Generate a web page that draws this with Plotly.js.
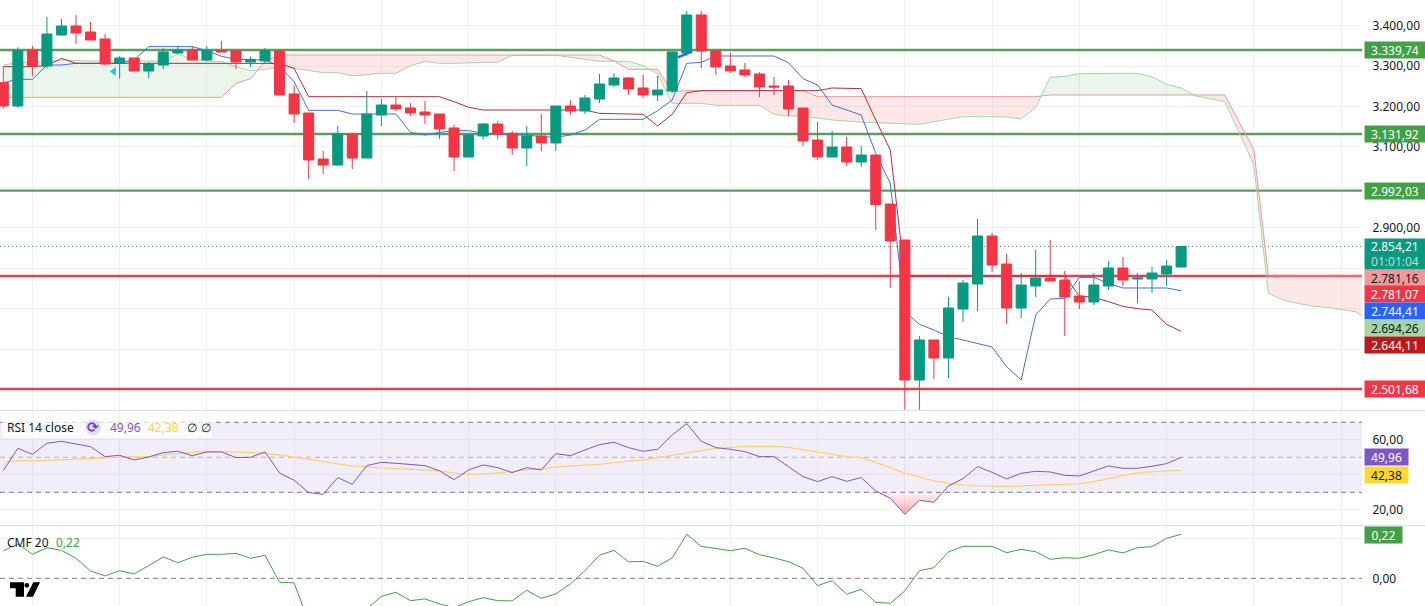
<!DOCTYPE html>
<html>
<head>
<meta charset="utf-8">
<script src="https://cdn.plot.ly/plotly-3.0.1.min.js"></script>
<style>html,body{margin:0;padding:0;background:#fff;overflow:hidden}#chart{width:1425px;height:606px}</style>
</head>
<body>
<div id="chart"></div>
<script>
const open = [
3259.0,3201.3,3338.1,3300.2,3376.8,3399.0,3384.2,3366.9,3307.6,3319.9,
3287.8,3302.6,3332.3,3339.7,3315.0,3338.1,3337.2,3310.0,3312.5,3337.2,
3231.0,3184.0,3070.2,3055.4,3132.0,3072.7,3179.0,3203.7,3196.3,3186.4,
3181.5,3146.9,3075.2,3127.1,3156.8,3133.7,3097.4,3127.1,3109.8,3201.3,
3188.9,3218.6,3253.2,3270.5,3245.8,3228.5,3238.3,3332.3,3426.2,3337.2,
3300.2,3290.3,3280.4,3250.7,3250.7,3196.3,3117.2,3075.2,3099.9,3062.8,
3080.1,2959.0,2870.0,2523.9,2622.8,2578.3,2699.4,2761.2,2879.9,2810.7,
2701.9,2756.3,2776.1,2771.1,2731.6,2716.8,2756.3,2800.8,2773.6,2773.6,
2786.0,2803.3];
const high = [
3298.5,3346.3,3349.6,3421.3,3416.3,3426.2,3408.9,3379.2,3324.9,3319.9,
3310.0,3344.6,3349.6,3349.6,3349.6,3361.9,3342.2,3323.2,3344.6,3342.2,
3253.2,3184.0,3090.0,3151.8,3132.0,3238.3,3218.6,3223.5,3208.7,3213.6,
3181.5,3154.3,3132.0,3159.2,3164.2,3139.5,3151.8,3181.5,3201.3,3216.1,
3228.5,3280.4,3282.8,3273.0,3277.9,3275.4,3337.2,3436.1,3436.1,3339.7,
3332.3,3307.6,3285.3,3273.0,3265.5,3196.3,3161.7,3139.5,3124.6,3102.4,
3080.1,2959.0,2870.0,2632.7,2622.8,2729.0,2771.1,2922.0,2887.3,2835.4,
2788.4,2845.3,2870.0,2793.4,2768.7,2788.4,2818.0,2828.0,2788.4,2803.3,
2820.6,2854.21];
const low = [
3194.7,3197.1,3275.4,3294.4,3374.3,3354.5,3364.4,3302.6,3268.8,3283.7,
3270.5,3292.7,3329.8,3315.0,3312.5,3334.8,3292.7,3297.7,3306.7,3228.5,
3159.2,3020.8,3033.2,3052.9,3045.5,3072.7,3151.8,3188.9,3176.5,3156.8,
3119.7,3040.6,3075.2,3117.2,3119.7,3080.1,3052.9,3090.0,3090.0,3179.0,
3181.5,3208.7,3248.2,3228.5,3221.0,3213.6,3233.4,3324.9,3295.2,3277.9,
3282.8,3273.0,3223.5,3228.5,3176.5,3102.4,3067.8,3075.2,3052.9,3050.5,
2894.7,2751.4,2400.0,2400.0,2526.4,2528.9,2667.3,2694.5,2790.9,2662.4,
2677.2,2729.0,2768.7,2632.7,2699.4,2709.3,2746.4,2756.3,2714.3,2739.0,
2756.3,2803.3];
const close = [
3201.3,3338.1,3300.2,3379.2,3399.0,3381.7,3364.4,3305.1,3319.9,3287.8,
3305.1,3334.8,3339.7,3315.0,3338.1,3334.8,3310.0,3316.6,3337.2,3228.5,
3181.5,3067.8,3055.4,3132.0,3072.7,3181.5,3203.7,3193.9,3184.0,3179.0,
3144.4,3075.2,3129.6,3156.8,3132.0,3097.4,3127.1,3109.8,3201.3,3188.9,
3221.0,3255.7,3270.5,3243.3,3228.5,3240.8,3334.8,3426.2,3337.2,3297.7,
3287.8,3277.9,3248.2,3248.2,3193.9,3114.7,3075.2,3099.9,3062.8,3080.1,
2957.4,2867.5,2523.9,2622.8,2578.3,2701.9,2763.7,2879.9,2808.2,2701.9,
2758.8,2776.1,2768.7,2729.0,2716.8,2758.8,2800.8,2771.1,2776.1,2788.4,
2805.7,2854.21];

const conversionLine = [
3259.0,3267.2,3267.2,3302.6,3302.6,3306.7,3306.7,3306.7,3306.7,3315.0,
3348.0,3348.0,3348.0,3348.0,3338.1,3324.0,3316.6,3315.0,3315.0,3298.5,
3261.4,3190.6,3190.6,3190.6,3181.5,3181.5,3181.5,3181.5,3136.2,3129.6,
3136.2,3140.3,3140.3,3133.7,3132.0,3129.6,3129.6,3125.5,3123.8,3129.6,
3141.9,3168.3,3168.3,3168.3,3168.3,3189.7,3216.1,3306.7,3309.2,3324.9,
3324.9,3324.9,3324.9,3324.9,3308.4,3268.8,3253.2,3203.7,3191.4,3179.0,
3084.3,3010.1,2692.9,2661.5,2647.5,2631.0,2622.8,2614.6,2605.5,2556.9,
2524.0,2684.6,2724.2,2725.8,2777.7,2777.7,2762.9,2751.4,2751.4,2751.4,
2751.4,2744.41];
const baseLine = [
3298.5,3298.5,3298.5,3301.0,3319.1,3306.7,3306.7,3306.7,3306.7,3306.7,
3306.7,3306.7,3306.7,3306.7,3306.7,3306.7,3306.7,3306.7,3306.7,3306.7,
3294.4,3224.3,3224.3,3224.3,3224.3,3224.3,3224.3,3224.3,3224.3,3224.3,
3224.3,3212.0,3198.0,3191.4,3191.4,3191.4,3191.4,3191.4,3191.4,3191.4,
3191.4,3183.1,3182.3,3181.5,3180.7,3151.8,3180.7,3234.2,3239.2,3239.2,
3239.2,3239.2,3239.2,3239.2,3239.2,3239.2,3239.2,3245.8,3244.1,3244.1,
3166.7,3092.5,2781.1,2781.1,2781.1,2781.1,2781.1,2781.1,2781.1,2781.1,
2781.1,2781.1,2781.1,2781.1,2731.6,2728.3,2717.6,2706.0,2700.3,2697.0,
2661.5,2644.11];
const spanA = [
3302.6,3308.4,3309.2,3310.9,3315.0,3313.3,3312.5,3312.5,3312.5,3312.5,
3312.5,3312.5,3329.8,3316.6,3312.5,3310.9,3298.5,3288.6,3291.9,3296.0,
3294.4,3288.6,3283.7,3283.7,3276.2,3278.7,3282.0,3282.0,3300.2,3311.7,
3306.7,3306.7,3308.4,3309.2,3309.2,3326.5,3326.5,3326.5,3326.5,3321.6,
3316.6,3311.7,3311.7,3311.7,3301.0,3280.4,3207.9,3207.9,3207.9,3202.9,
3202.9,3202.9,3202.9,3180.7,3176.5,3176.5,3170.8,3166.7,3164.2,3160.9,
3160.1,3158.4,3156.8,3155.9,3162.5,3168.3,3174.9,3174.9,3174.9,3174.1,
3169.1,3197.1,3272.1,3274.6,3281.2,3282.0,3282.0,3282.0,3282.0,3273.8,
3254.8,3245.8,3226.0,3219.4,3212.0,3135.3,3055.4,2738.2,2721.7,2713.5,
2706.9,2703.6,2698.6,2692.9,2669.8];
const spanB = [
3222.7,3222.7,3222.7,3222.7,3222.7,3222.7,3222.7,3222.7,3222.7,3222.7,
3222.7,3222.7,3222.7,3222.7,3222.7,3222.7,3257.3,3268.8,3312.5,3327.3,
3327.3,3327.3,3327.3,3327.3,3327.3,3327.3,3327.3,3327.3,3327.3,3327.3,
3327.3,3327.3,3327.3,3327.3,3327.3,3327.3,3327.3,3327.3,3327.3,3327.3,
3327.3,3327.3,3312.5,3291.9,3291.9,3291.9,3236.7,3239.2,3239.2,3239.2,
3239.2,3239.2,3239.2,3239.2,3239.2,3239.2,3224.3,3224.3,3224.3,3224.3,
3224.3,3224.3,3224.3,3224.3,3224.3,3224.3,3224.3,3224.3,3224.3,3224.3,
3224.3,3224.3,3228.5,3228.5,3228.5,3228.5,3228.5,3228.5,3228.5,3228.5,
3228.5,3228.5,3228.5,3228.5,3228.5,3160.9,3095.0,2781.16,2781.16,2781.16,
2781.16,2781.16,2781.16,2781.16,2781.16];

const rsi = [
42.38,55.14,51.71,58.00,59.14,57.62,56.10,50.38,51.14,48.48,
50.19,52.67,53.43,50.95,53.05,53.05,49.81,50.00,53.05,41.05,
36.86,29.81,28.86,38.38,34.57,45.24,47.14,46.57,45.81,45.24,
42.19,37.24,42.76,45.62,44.10,41.24,44.10,42.76,52.10,50.95,
54.19,57.24,58.57,55.52,53.43,54.57,62.76,69.24,59.14,55.52,
54.57,53.24,50.38,50.38,44.67,38.95,36.10,38.95,36.29,38.38,
30.76,26.57,17.43,25.43,24.29,33.62,37.81,44.67,41.43,37.62,
40.86,42.00,41.62,39.71,39.33,42.19,45.05,43.71,43.71,44.86,
46.38,49.96];
const rsiMa = [
47.14,48.10,47.90,48.29,48.48,49.05,49.43,49.81,50.00,50.19,
50.38,51.33,52.29,52.86,53.43,53.43,53.05,52.67,52.29,51.33,
50.00,48.67,47.14,46.19,45.05,44.29,43.90,43.71,43.33,42.76,
42.19,41.05,40.29,40.48,41.05,41.81,42.95,43.33,44.48,44.86,
45.24,46.00,46.95,47.52,48.48,49.81,51.14,52.86,54.19,55.14,
55.71,56.29,56.29,56.29,55.71,54.38,52.86,51.71,50.38,49.62,
47.14,44.10,40.86,38.76,36.48,35.14,34.19,33.81,33.43,33.43,
33.62,34.00,34.19,34.38,34.95,36.10,38.00,39.52,41.05,41.81,
42.19,42.38];
const cmf = [
0.137,0.172,0.120,0.153,0.140,0.100,0.037,0.012,0.038,0.022,
0.063,0.107,0.078,0.105,0.120,0.120,0.125,0.100,0.115,-0.020,
-0.023,-0.217,-0.267,-0.300,-0.233,-0.153,-0.090,-0.070,-0.112,-0.103,
-0.128,-0.147,-0.117,-0.097,-0.112,-0.113,-0.060,-0.100,-0.078,-0.028,
0.038,0.115,0.140,0.082,0.085,0.060,0.102,0.220,0.160,0.148,
0.138,0.150,0.118,0.102,0.083,0.050,-0.037,-0.012,-0.080,-0.055,
-0.120,-0.125,-0.063,0.038,0.053,0.132,0.160,0.160,0.160,0.128,
0.145,0.133,0.095,0.103,0.100,0.118,0.142,0.127,0.153,0.158,
0.200,0.220];

const greenLevels = [3339.74, 3131.92, 2992.03];
const redLevels = [2781.07, 2501.68];
const lastPrice = 2854.21;
const spanATag = 2694.26;
const countdown = '01:01:04';
const priceLabels = [3400, 3300, 3200, 3100, 3000, 2900];
const priceGrid = [3400, 3300, 3200, 3100, 3000, 2900, 2800, 2700, 2600, 2500];
const rsiLabels = [60, 20];
const rsiGrid = [60, 40, 20];
const cmfLabels = [0];
const cmfGrid = [0.2];

const UP = '#089981', DOWN = '#F23645', FONT = '"Noto Sans", Roboto, sans-serif';
const W = 1425, H = 606, PLOT_W = 1362;
const xRange = [-0.227, 93.44];
const priceRange = [2449.78, 3463.3];
const rsiRange = [11.31, 76.46];
const cmfRange = [-0.1385, 0.2615];
const idx = a => a.map((_, i) => i);

function fmt(v) {
  const p = v.toFixed(2).split('.');
  return p[0].replace(/\B(?=(\d{3})+$)/g, '.') + ',' + p[1];
}

/* adds the points where two lines cross so fills change colour at the crossing */
function withCrossings(x, a, b) {
  const X = [], A = [], B = [];
  for (let i = 0; i < x.length; i++) {
    X.push(x[i]); A.push(a[i]); B.push(b[i]);
    if (i < x.length - 1) {
      const d0 = a[i] - b[i], d1 = a[i + 1] - b[i + 1];
      if (d0 * d1 < 0) {
        const t = d0 / (d0 - d1);
        X.push(x[i] + t * (x[i + 1] - x[i]));
        const v = a[i] + t * (a[i + 1] - a[i]);
        A.push(v); B.push(v);
      }
    }
  }
  return { X, A, B };
}

const cloud = withCrossings(idx(spanA), spanA, spanB);
const cloudTop = cloud.A.map((v, i) => Math.max(v, cloud.B[i]));
const hidden = { width: 0, color: 'rgba(0,0,0,0)' };

const osX = idx(rsi).slice(60, 66);
const osY = rsi.slice(60, 66);
const os = withCrossings(osX, osY, osX.map(() => 30));
const osLow = os.A.map(v => Math.min(v, 30));

const line = (x, y, color, yaxis, width) => ({
  type: 'scatter', mode: 'lines', x, y, yaxis, xaxis: 'x',
  line: { color, width: width || 1 }, hoverinfo: 'skip', showlegend: false
});

const data = [
  { type: 'scatter', mode: 'lines', x: cloud.X, y: cloud.B, line: hidden, hoverinfo: 'skip', showlegend: false },
  { type: 'scatter', mode: 'lines', x: cloud.X, y: cloudTop, line: hidden, fill: 'tonexty', fillcolor: 'rgba(67,160,71,0.11)', hoverinfo: 'skip', showlegend: false },
  { type: 'scatter', mode: 'lines', x: cloud.X, y: cloud.A, line: hidden, hoverinfo: 'skip', showlegend: false },
  { type: 'scatter', mode: 'lines', x: cloud.X, y: cloudTop, line: hidden, fill: 'tonexty', fillcolor: 'rgba(244,67,54,0.12)', hoverinfo: 'skip', showlegend: false },
  line(idx(spanA), spanA, '#A5D6A7', 'y'),
  line(idx(spanB), spanB, '#EF9A9A', 'y'),
  line(idx(conversionLine), conversionLine, '#3F70EA', 'y'),
  line(idx(baseLine), baseLine, '#B3303A', 'y'),
  {
    type: 'candlestick', x: idx(open), open, high, low, close, xaxis: 'x', yaxis: 'y4',
    whiskerwidth: 0,
    increasing: { line: { color: UP, width: 1 }, fillcolor: UP },
    decreasing: { line: { color: DOWN, width: 1 }, fillcolor: DOWN },
    hoverinfo: 'skip', showlegend: false
  },
  { type: 'scatter', mode: 'markers', x: [7.6], y: [3286.6], xaxis: 'x', yaxis: 'y4',
    marker: { symbol: 'triangle-left', size: 8, color: '#26C6DA' }, hoverinfo: 'skip', showlegend: false },
  line([46.4, 47.3], [3321.6, 3335.5], '#2962FF', 'y4', 2.5),

  { type: 'scatter', mode: 'lines', x: os.X, y: os.X.map(() => 30), yaxis: 'y2', line: hidden, hoverinfo: 'skip', showlegend: false },
  { type: 'scatter', mode: 'lines', x: os.X, y: osLow, yaxis: 'y2', line: hidden, fill: 'tonexty',
    fillgradient: { type: 'vertical', start: 17.43, stop: 30,
      colorscale: [[0, 'rgba(242,54,69,0.42)'], [1, 'rgba(242,54,69,0.05)']] },
    hoverinfo: 'skip', showlegend: false },
  line(idx(rsiMa), rsiMa, '#FDD26E', 'y2', 1.3),
  line(idx(rsi), rsi, '#7E57C2', 'y2'),
  line(idx(cmf), cmf, '#43A047', 'y3')
];

const hline = (y, color, yref, width, dash) => ({
  type: 'line', xref: 'x', yref, x0: xRange[0], x1: xRange[1], y0: y, y1: y,
  line: { color, width, dash: dash || 'solid' }, layer: 'between'
});
const P = (x, y) => (x / W).toFixed(5) + ',' + (1 - y / H).toFixed(5);

const shapes = [
  { type: 'rect', xref: 'x', yref: 'y2', x0: xRange[0], x1: xRange[1], y0: 30, y1: 70,
    fillcolor: 'rgba(126,87,194,0.1)', line: { width: 0 }, layer: 'between' },
  ...greenLevels.map(v => hline(v, '#5A9E5C', 'y', 2.4)),
  ...redLevels.map(v => hline(v, '#E5404F', 'y', 2.4)),
  hline(lastPrice, UP, 'y', 1, '1px,3px'),
  hline(70, '#787B86', 'y2', 1, '5px,4px'),
  hline(50, 'rgba(120,123,134,0.5)', 'y2', 1, '5px,4px'),
  hline(30, '#787B86', 'y2', 1, '5px,4px'),
  hline(0, '#787B86', 'y3', 1, '5px,4px'),
  { type: 'line', xref: 'paper', yref: 'paper', x0: 0, x1: 1, y0: 1 - 410.5 / H, y1: 1 - 410.5 / H, line: { color: '#E0E3EB', width: 1.5 }, layer: 'above' },
  { type: 'line', xref: 'paper', yref: 'paper', x0: 0, x1: 1, y0: 1 - 525.5 / H, y1: 1 - 525.5 / H, line: { color: '#E0E3EB', width: 1.5 }, layer: 'above' },
  { type: 'rect', xref: 'paper', yref: 'paper', x0: 2 / W, x1: 212 / W, y0: 1 - 438 / H, y1: 1 - 421 / H,
    fillcolor: 'rgba(255,255,255,0.7)', line: { width: 0 }, layer: 'above' },
  { type: 'circle', xref: 'paper', yref: 'paper', x0: 85 / W, x1: 101 / W, y0: 1 - 435.3 / H, y1: 1 - 419.3 / H,
    fillcolor: 'rgba(126,87,194,0.18)', line: { width: 0 }, layer: 'above' },
  /* logo */
  { type: 'path', xref: 'paper', yref: 'paper', layer: 'above', fillcolor: '#000', line: { width: 0 },
    path: 'M' + P(10, 582.3) + ' L' + P(24, 582.3) + ' L' + P(24, 596.7) + ' L' + P(15.7, 596.7) + ' L' + P(15.7, 588.3) + ' L' + P(10, 588.3) + ' Z' },
  { type: 'path', xref: 'paper', yref: 'paper', layer: 'above', fillcolor: '#000', line: { width: 0 },
    path: 'M' + P(33.3, 582.3) + ' L' + P(40, 582.3) + ' L' + P(33, 596.7) + ' L' + P(26, 596.7) + ' Z' },
  { type: 'circle', xref: 'paper', yref: 'paper', layer: 'above', fillcolor: '#000', line: { width: 0 },
    x0: 24.4 / W, x1: 29.2 / W, y0: 1 - 587.7 / H, y1: 1 - 582.9 / H }
];

const tag = (value, text, bg, color, yref, yshift, width) => ({
  xref: 'paper', yref, x: 1364 / W, y: value, xanchor: 'left', yanchor: 'middle', yshift: yshift || 0,
  text, showarrow: false, width: width || 60, height: 16, borderpad: 0, bgcolor: bg,
  font: { family: FONT, size: 12, color }, align: 'center', valign: 'middle'
});
const legendText = (x, y, text, color) => ({
  xref: 'paper', yref: 'paper', x: x / W, y: 1 - y / H, xanchor: 'left', yanchor: 'middle',
  text, showarrow: false, font: { family: FONT, size: 12, color }, borderpad: 0
});

const annotations = [
  tag(greenLevels[0], fmt(greenLevels[0]), '#43A047', '#fff', 'y'),
  tag(greenLevels[1], fmt(greenLevels[1]), '#43A047', '#fff', 'y'),
  tag(greenLevels[2], fmt(greenLevels[2]), '#43A047', '#fff', 'y'),
  tag(redLevels[1], fmt(redLevels[1]), '#F23645', '#fff', 'y'),
  tag(spanB[94], fmt(spanB[94]), '#EF9A9A', '#131722', 'y', -2),
  tag(redLevels[0], fmt(redLevels[0]), '#F23645', '#fff', 'y', -18),
  tag(conversionLine[81], fmt(conversionLine[81]), '#2962FF', '#fff', 'y', -20),
  tag(spanATag, fmt(spanATag), '#A5D6A7', '#131722', 'y', -17),
  tag(baseLine[81], fmt(baseLine[81]), '#B71C1C', '#fff', 'y', -14),
  Object.assign(tag(lastPrice, fmt(lastPrice) + "<br><span style='color:rgba(255,255,255,0.7)'>" + countdown + '</span>', UP, '#fff', 'y', 8),
    { yanchor: 'top', height: 30 }),
  tag(rsi[81], fmt(rsi[81]), '#7E57C2', '#fff', 'y2', 0, 43),
  tag(rsiMa[81], fmt(rsiMa[81]), '#FDD835', '#131722', 'y2', -4, 43),
  tag(cmf[81], fmt(cmf[81]), '#43A047', '#fff', 'y3', -1, 37),
  legendText(6, 427.5, 'RSI 14 close', '#131722'),
  { xref: 'paper', yref: 'paper', x: 93 / W, y: 1 - 427.3 / H, xanchor: 'center', yanchor: 'middle',
    text: '<b>⟳</b>', showarrow: false, font: { family: 'DejaVu Sans', size: 14, color: '#6A3FD8' }, borderpad: 0 },
  legendText(109, 427.5, fmt(rsi[81]), '#7E57C2'),
  legendText(147, 427.5, fmt(rsiMa[81]), '#FDD835'),
  legendText(186, 427.5, '∅', '#131722'),
  legendText(200, 427.5, '∅', '#131722'),
  legendText(6, 542.5, 'CMF 20', '#131722'),
  legendText(55, 542.5, fmt(cmf[81]), '#43A047')
];

const GRID = '#F0F1F4';
const yCommon = {
  side: 'right', anchor: 'x', fixedrange: true, zeroline: false, showline: false,
  showgrid: false, tickformat: ',.2f', ticks: 'outside', ticklen: 7,
  tickcolor: 'rgba(0,0,0,0)', tickfont: { family: FONT, size: 12, color: '#131722' }
};
const gridAt = vals => ({ tickvals: vals, showgrid: true, gridcolor: GRID, gridwidth: 1, ticks: '' });

const layout = {
  width: W, height: H, margin: { l: 0, r: 0, t: 0, b: 0, pad: 0 },
  paper_bgcolor: '#fff', plot_bgcolor: '#fff', separators: ',.',
  showlegend: false, hovermode: false, dragmode: false, boxgap: 0.31, boxgroupgap: 0,
  xaxis: {
    domain: [0, PLOT_W / W], range: xRange, fixedrange: true, showticklabels: false, ticks: '',
    tick0: 2, dtick: 6, gridcolor: GRID, gridwidth: 1, zeroline: false, showline: false,
    rangeslider: { visible: false }, anchor: 'y3'
  },
  yaxis: Object.assign({}, yCommon, { domain: [1 - 410 / H, 1], range: priceRange, tickvals: priceLabels, minor: gridAt(priceGrid) }),
  yaxis2: Object.assign({}, yCommon, { domain: [1 - 525 / H, 1 - 411 / H], range: rsiRange, tickvals: rsiLabels, minor: gridAt(rsiGrid) }),
  yaxis3: Object.assign({}, yCommon, { domain: [0, 1 - 526 / H], range: cmfRange, tickvals: cmfLabels, minor: gridAt(cmfGrid) }),
  yaxis4: { overlaying: 'y', side: 'right', anchor: 'x', range: priceRange, fixedrange: true, visible: false, showgrid: false, zeroline: false },
  shapes, annotations
};

Plotly.newPlot('chart', data, layout, { displayModeBar: false, staticPlot: true });
</script>
</body>
</html>
